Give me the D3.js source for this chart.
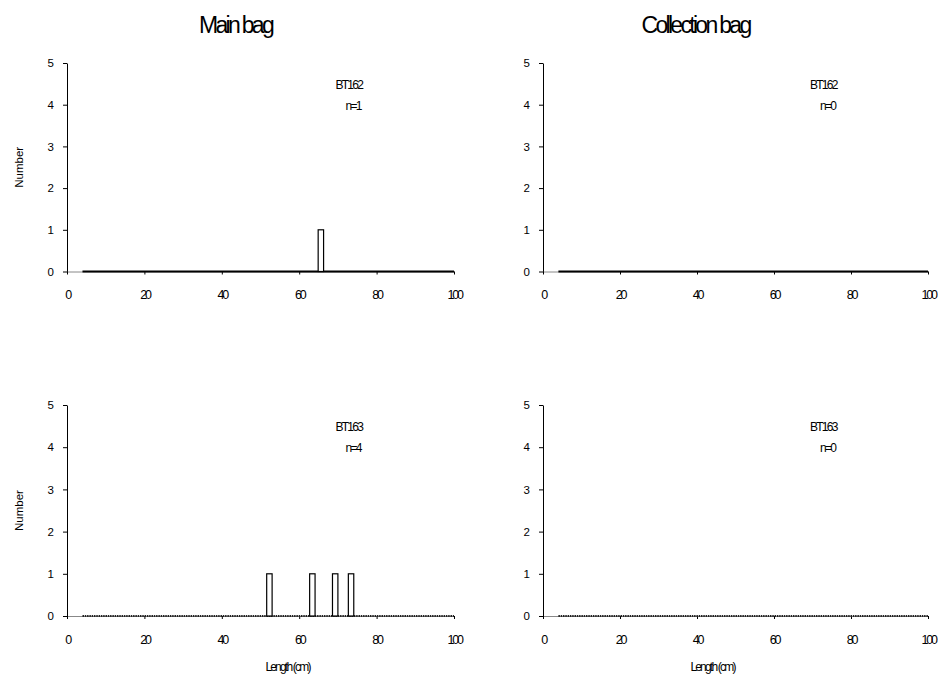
<!DOCTYPE html>
<html>
<head>
<meta charset="utf-8">
<script src="https://cdn.jsdelivr.net/npm/d3@7"></script>
<style>
  body { margin: 0; background: #fff; }
  svg { display: block; font-family: "Liberation Sans", Arial, sans-serif; }
</style>
</head>
<body>
<svg id="chart" width="938" height="679"></svg>
<script>
// Column titles and row (haul) labels
const columnTitles = ["Main bag", "Collection bag"];
const hauls = ["BT162", "BT163"];

// Length classes (cm) with one fish each; bar centres
const mainBT162 = [65.6];
const mainBT163 = [52.3, 63.4, 69.3, 73.4];
const collBT162 = [];
const collBT163 = [];
const counts = [[1], [1, 1, 1, 1]];

const xTicks = [0, 20, 40, 60, 80, 100];
const yTicks = [0, 1, 2, 3, 4, 5];
const lengthMin = 4;      // first length class on the axis
const barWidthCm = 1.4;

const panels = [
  { col: 0, row: 0, lengths: mainBT162, values: counts[0] },
  { col: 1, row: 0, lengths: collBT162, values: [] },
  { col: 0, row: 1, lengths: mainBT163, values: counts[1] },
  { col: 1, row: 1, lengths: collBT163, values: [] }
];

const svg = d3.select("#chart");
const colX = [[67, 454], [543, 928]];
const rowY = [[63, 271.5], [405, 616]];
const titleShift = [-25, -40];
const xTitleShift = [27, -23];

panels.forEach(p => {
  const x = d3.scaleLinear().domain([0, 100]).range(colX[p.col]);
  const y = d3.scaleLinear().domain([0, 5]).range([rowY[p.row][1], rowY[p.row][0]]);
  const g = svg.append("g");

  // y axis
  const ya = g.append("g")
    .attr("transform", `translate(${x(0)},0)`)
    .call(d3.axisLeft(y).tickValues(yTicks).tickFormat(d3.format("d"))
      .tickSize(4).tickPadding(9).tickSizeOuter(0));
  ya.select(".domain").attr("stroke", "#000");
  ya.selectAll("text").attr("font-size", 11.5).attr("fill", "#000");

  // x axis
  const xa = g.append("g")
    .attr("transform", `translate(0,${y(0)})`)
    .call(d3.axisBottom(x).tickValues(xTicks).tickSize(3).tickPadding(16).tickSizeOuter(0));
  xa.select(".domain").attr("stroke", "#888");
  xa.selectAll("text").attr("font-size", 12.5).attr("letter-spacing", "-2.2px").attr("fill", "#000");

  // empty length classes along the baseline
  g.append("line")
    .attr("x1", x(lengthMin)).attr("x2", x(100))
    .attr("y1", y(0)).attr("y2", y(0))
    .attr("stroke", p.row === 0 ? "#000" : "#222")
    .attr("stroke-width", 2)
    .attr("stroke-dasharray", p.row === 0 ? null : "1.5 0.8");

  // bars
  g.selectAll("rect.bar")
    .data(p.lengths.map((l, i) => ({ l, v: p.values[i] })))
    .join("rect")
    .attr("class", "bar")
    .attr("x", d => x(d.l - barWidthCm / 2))
    .attr("width", d => x(d.l + barWidthCm / 2) - x(d.l - barWidthCm / 2))
    .attr("y", d => y(d.v))
    .attr("height", d => y(0) - y(d.v))
    .attr("fill", "#fff")
    .attr("stroke", "#000")
    .attr("stroke-width", 1.2);

  // haul label and sample size
  g.append("text")
    .attr("x", x(76.3)).attr("y", y(4.46))
    .attr("text-anchor", "end").attr("dominant-baseline", "middle")
    .attr("font-size", 12).attr("letter-spacing", "-1.7px")
    .text(hauls[p.row]);
  g.append("text")
    .attr("x", x(75.9)).attr("y", y(3.96))
    .attr("text-anchor", "end").attr("dominant-baseline", "middle")
    .attr("font-size", 12).attr("letter-spacing", "-1.7px")
    .text("n=" + p.lengths.length);

  // y axis title on the left column
  if (p.col === 0) {
    g.append("text")
      .attr("transform", `translate(20,${(y(0) + y(5)) / 2}) rotate(-90)`)
      .attr("text-anchor", "middle").attr("dominant-baseline", "middle")
      .attr("font-size", 11.5)
      .text("Number");
  }
  // x axis title on the bottom row
  if (p.row === 1) {
    g.append("text")
      .attr("x", (x(0) + x(100)) / 2 + xTitleShift[p.col]).attr("y", y(0) + 52)
      .attr("text-anchor", "middle").attr("dominant-baseline", "middle")
      .attr("font-size", 12).attr("letter-spacing", "-1.8px")
      .text("Length (cm)");
  }
  // column title on the top row
  if (p.row === 0) {
    g.append("text")
      .attr("x", (x(0) + x(100)) / 2 + titleShift[p.col]).attr("y", 27)
      .attr("text-anchor", "middle").attr("dominant-baseline", "middle")
      .attr("font-size", 23).attr("letter-spacing", "-2.7px")
      .text(columnTitles[p.col]);
  }
});
</script>
</body>
</html>
